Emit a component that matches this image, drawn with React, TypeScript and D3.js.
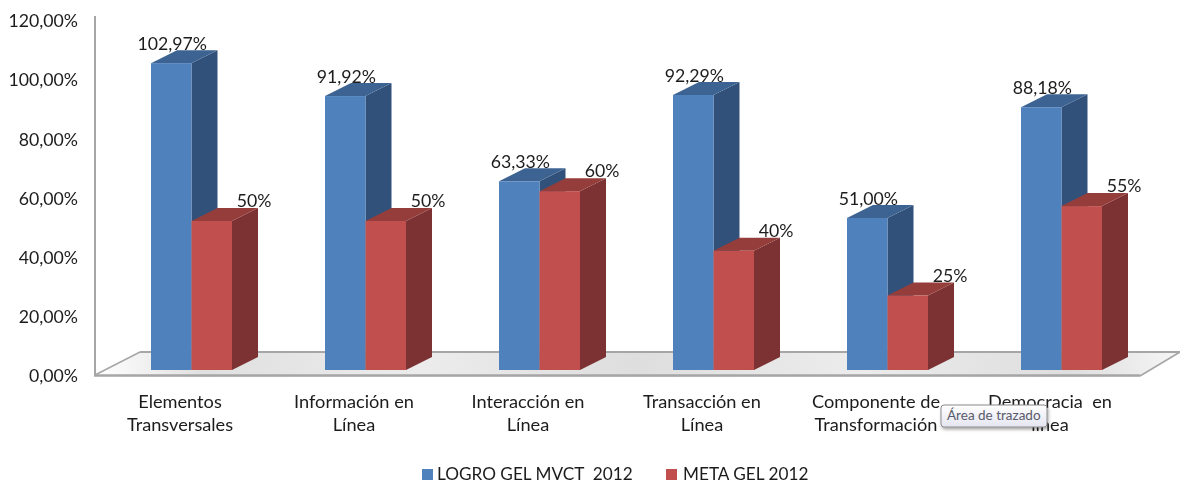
import React from "react";
import * as d3 from "d3";

const categories = [
  ["Elementos", "Transversales"],
  ["Información en", "Línea"],
  ["Interacción en", "Línea"],
  ["Transacción en", "Línea"],
  ["Componente de", "Transformación"],
  ["Democracia  en", "línea"],
];
const seriesNames = ["LOGRO GEL MVCT  2012", "META GEL 2012"];
const logro = [102.97, 91.92, 63.33, 92.29, 51.0, 88.18];
const meta = [50, 50, 60, 40, 25, 55];
const logroLabels = ["102,97%", "91,92%", "63,33%", "92,29%", "51,00%", "88,18%"];
const metaLabels = ["50%", "50%", "60%", "40%", "25%", "55%"];
const ticks = [0, 20, 40, 60, 80, 100, 120];

const W = 1180, H = 483;
const FONT = "Lato, 'Open Sans', sans-serif";
const TEXT = "#1c1c1c";
const DX = 26, DY = 13;
const seriesColors = [
  { front: "#4f81bd", side: "#30517a", top: "#3c6492" },
  { front: "#c0504d", side: "#7b3130", top: "#953d3b" },
];

const axisY = d3.scaleLinear().domain([0, 120]).range([376, 21]);
const barY = d3.scaleLinear().domain([0, 100]).range([370, 72]);
const catKeys = categories.map((c) => c[0]);
const groupX = d3.scaleBand<string>().domain(catKeys).range([151, 1102]).paddingInner(93 / 174).paddingOuter(0);
const serX = d3.scaleBand<string>().domain(["0", "1"]).range([0, groupX.bandwidth()]);

function Bar({ x, w, v, c }: { x: number; w: number; v: number; c: typeof seriesColors[0] }) {
  const y0 = barY(0), y1 = barY(v);
  const path = d3.path;
  const side = path();
  side.moveTo(x + w, y1); side.lineTo(x + w + DX, y1 - DY); side.lineTo(x + w + DX, y0 - DY); side.lineTo(x + w, y0); side.closePath();
  const top = path();
  top.moveTo(x, y1); top.lineTo(x + DX, y1 - DY); top.lineTo(x + w + DX, y1 - DY); top.lineTo(x + w, y1); top.closePath();
  return (
    <g>
      <path d={side.toString()} fill={c.side} />
      <path d={top.toString()} fill={c.top} />
      <rect x={x} y={y1} width={w} height={y0 - y1} fill={c.front} />
    </g>
  );
}

export default function App() {
  const floor = d3.line()([[95, 375], [140, 352], [1180, 352], [1140, 377], [95, 377]]) + "Z";
  return (
    <svg width={W} height={H} style={{ position: "absolute", left: 0, top: 0, background: "#fff" }} fontFamily={FONT}>
      <defs>
        <linearGradient id="floorG" x1="0" x2="1" y1="0" y2="0">
          <stop offset="0" stopColor="#ffffff" />
          <stop offset="0.1" stopColor="#e0e0e0" />
          <stop offset="0.3" stopColor="#ececec" />
          <stop offset="0.5" stopColor="#dedede" />
          <stop offset="0.7" stopColor="#ececec" />
          <stop offset="0.9" stopColor="#dedede" />
          <stop offset="1" stopColor="#f6f6f6" />
        </linearGradient>
        <linearGradient id="tipG" x1="0" x2="0" y1="0" y2="1">
          <stop offset="0" stopColor="#ffffff" />
          <stop offset="1" stopColor="#e4e5f0" />
        </linearGradient>
        <filter id="soft" x="-5%" y="-5%" width="110%" height="110%"><feGaussianBlur stdDeviation="0.35" /></filter>
        <filter id="shadow" x="-10%" y="-20%" width="120%" height="150%"><feDropShadow dx="1" dy="2" stdDeviation="1.5" floodColor="#000" floodOpacity="0.35" /></filter>
      </defs>

      <g filter="url(#soft)">
        <path d={floor} fill="url(#floorG)" />
        <line x1={140} y1={352} x2={1180} y2={352} stroke="#a6a6a6" strokeWidth={2} />
        <line x1={95} y1={375} x2={140} y2={352} stroke="#a6a6a6" strokeWidth={1.5} />
        <line x1={1140} y1={376} x2={1180} y2={352} stroke="#a6a6a6" strokeWidth={1.5} />
        <line x1={95} y1={16} x2={95} y2={376} stroke="#a6a6a6" strokeWidth={2} />
        <line x1={94} y1={375.5} x2={1140} y2={375.5} stroke="#a6a6a6" strokeWidth={2.5} />

        {catKeys.map((k, i) => {
          const g = groupX(k)!;
          return (
            <g key={k}>
              <Bar x={g + serX("0")!} w={serX.bandwidth()} v={logro[i]} c={seriesColors[0]} />
              <Bar x={g + serX("1")!} w={serX.bandwidth()} v={meta[i]} c={seriesColors[1]} />
            </g>
          );
        })}
      </g>

      <g filter="url(#soft)" fill={TEXT} fontSize={17.7}>
        {ticks.map((t) => (
          <text key={t} x={78} y={axisY(t)} dy="0.35em" textAnchor="end">
            {t.toFixed(2).replace(".", ",")}%
          </text>
        ))}
        {catKeys.map((k, i) => {
          const g = groupX(k)!;
          const bw = serX.bandwidth();
          return (
            <g key={k}>
              <text x={g + serX("0")! + bw / 2 + 1} y={barY(logro[i]) - 13} textAnchor="middle">{logroLabels[i]}</text>
              <text x={g + serX("1")! + bw + 22} y={barY(meta[i]) - 14} textAnchor="middle">{metaLabels[i]}</text>
              <text x={g + 29} y={408} textAnchor="middle" fontSize={18.2} xmlSpace="preserve">{categories[i][0]}</text>
              <text x={g + 29} y={431} textAnchor="middle" fontSize={18.2}>{categories[i][1]}</text>
            </g>
          );
        })}
        <rect x={422} y={469} width={11} height={11} fill={seriesColors[0].front} />
        <text x={437} y={479.5} fontSize={17.2} xmlSpace="preserve">{seriesNames[0]}</text>
        <rect x={666} y={469} width={11} height={11} fill={seriesColors[1].front} />
        <text x={683} y={479.5} fontSize={17.2}>{seriesNames[1]}</text>
      </g>

      <rect x={941} y={405} width={106} height={22} rx={3} fill="url(#tipG)" stroke="#8a8a8a" filter="url(#shadow)" />
      <text x={947} y={420} fontSize={13.5} fill="#5a5a6a">Área de trazado</text>
    </svg>
  );
}
